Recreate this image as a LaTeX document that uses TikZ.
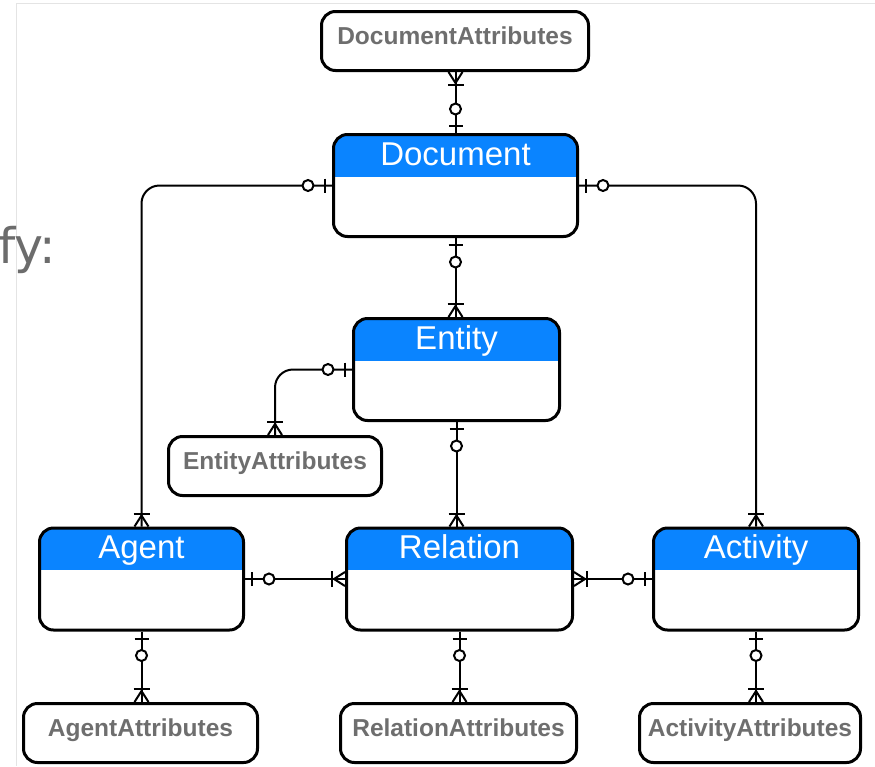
\documentclass[tikz,border=0pt]{standalone}
\usepackage{fontspec}
\setmainfont{Liberation Sans}
\newfontfamily\notefont{DejaVu Sans}
\usepackage{xcolor}
\definecolor{0a84ff}{HTML}{0A84FF}
\definecolor{6e6e6e}{HTML}{6E6E6E}
\definecolor{e0e0e0}{HTML}{E4E4E4}
\usepackage{tikz}
\usetikzlibrary{decorations.markings}

\begin{document}
\begin{tikzpicture}[x=1pt, y=-1pt,
    table/.style={shape=rectangle, rounded corners=14pt, draw, line width=3pt, minimum height=102pt, inner sep=0pt,
        path picture={\fill[0a84ff, sharp corners] ([yshift=2pt]path picture bounding box.north west) rectangle ([yshift=-42pt]path picture bounding box.north east);},
        label={[anchor=base, yshift=-32pt, text=white, font=\fontsize{33}{33}\selectfont]north:#1}},
    attr/.style={shape=rectangle, rounded corners=14pt, draw, line width=3pt, minimum height=59pt, inner sep=0pt,
        text=6e6e6e, font=\fontsize{24.5}{24.5}\selectfont\bfseries, text height=0.72em, text depth=0pt},
    rel/.style={line width=2pt, rounded corners=18pt, postaction={decorate}, decoration={markings,
        mark=at position 7pt with {\draw[sharp corners] (0,-7pt) -- (0,7pt);},
        mark=at position 24pt with {\draw[fill=white] (0,0) circle (5.5pt);},
        mark=at position -13pt with {\draw[sharp corners] (0,-8pt) -- (0,8pt);},
        mark=at position -11pt with {\draw[sharp corners] (11pt,-7pt) -- (0,0) -- (11pt,7pt);}}}]
    \useasboundingbox (0,0) rectangle (875,766);

    % frame of the page behind
    \draw[e0e0e0, line width=1pt] (16,766) -- (16,3) -- (875,3);
    \node[text=gray!85!black, font=\notefont\fontsize{49}{49}\selectfont, anchor=base east] (fy) at (60,263) {fy:};

    % tables
    \node[table=Document, minimum width=244pt] (doc) at (455.5,185.5) {};
    \node[table=Entity, minimum width=206pt] (entity) at (456.5,369.5) {};
    \node[table=Agent, minimum width=204pt] (agent) at (141.5,579) {};
    \node[table=Relation, minimum width=226pt] (relation) at (459.5,579) {};
    \node[table=Activity, minimum width=205pt] (activity) at (756,579) {};

    % attributes
    \node[attr, minimum width=267pt] (docattr) at (455,41) {DocumentAttributes};
    \node[attr, minimum width=213pt] (entattr) at (275,466) {EntityAttributes};
    \node[attr, minimum width=234pt] (agentattr) at (140.5,733) {AgentAttributes};
    \node[attr, minimum width=236pt] (relattr) at (458.5,733) {RelationAttributes};
    \node[attr, minimum width=221pt] (actattr) at (750,733) {ActivityAttributes};

    % relations
    \draw[rel] (doc.north) -- (doc.north |- docattr.south);
    \draw[rel] (doc.west) -| (agent.north);
    \draw[rel] (doc.east) -| (activity.north);
    \draw[rel] (doc.south) -- (doc.south |- entity.north);
    \draw[rel] (entity.west) -| (entattr.north);
    \draw[rel] (entity.south) -- (entity.south |- relation.north);
    \draw[rel] (agent.east) -- (relation.west);
    \draw[rel] (activity.west) -- (relation.east);
    \draw[rel] (agent.south) -- (agent.south |- agentattr.north);
    \draw[rel] (relation.south) -- (relation.south |- relattr.north);
    \draw[rel] (activity.south) -- (activity.south |- actattr.north);
\end{tikzpicture}
\end{document}
